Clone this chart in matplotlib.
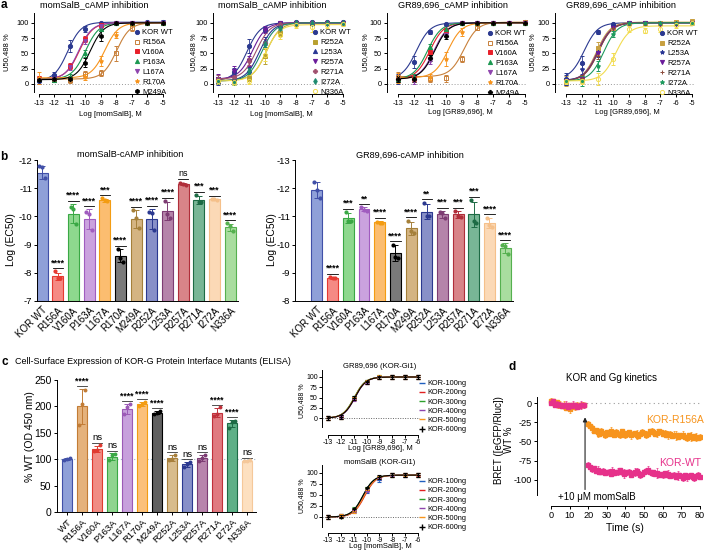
import matplotlib.pyplot as plt
import numpy as np
from matplotlib.lines import Line2D

plt.rcParams['font.family'] = ['Liberation Sans', 'DejaVu Sans']
plt.rcParams['axes.unicode_minus'] = False
plt.rcParams['axes.linewidth'] = 0.7
plt.rcParams['xtick.major.width'] = 0.7
plt.rcParams['ytick.major.width'] = 0.7
plt.rcParams['xtick.major.size'] = 2.5
plt.rcParams['ytick.major.size'] = 2.5
plt.rcParams['xtick.major.pad'] = 1.5
plt.rcParams['ytick.major.pad'] = 1.5

W, H = 705, 550

# ---------------- panel a data (dose response, % of U50,488) ----------------
log_conc = [-13, -12, -11, -10, -9, -8, -7, -6, -5]

a1_names = ['KOR WT', 'R156A', 'V160A', 'P163A', 'L167A', 'R170A', 'M249A']
a1_colors = ['#2b3990', '#c8803a', '#e8202a', '#1a9850', '#8e44ad', '#f7941d', '#000000']
a1_markers = ['o', 's', 's', '^', 'v', '*', 'h']
a1_hollow = [False, True, False, False, False, False, False]
a1_ec50 = [-11.15, -8.0, -10.4, -10.0, -10.45, -8.75, -9.7]
a1_top = [101, 100, 100, 100, 100, 100, 100]
a1_resp = [
    [5, 15, 62, 90, 100, 100, 100, 101, 102],
    [8, 8, 7, 17, 18, 50, 92, 100, 100],
    [8, 8, 30, 73, 97, 100, 100, 100, 100],
    [8, 7, 12, 50, 90, 100, 100, 100, 100],
    [7, 8, 27, 70, 95, 100, 100, 100, 100],
    [10, 8, 8, 12, 37, 80, 98, 100, 100],
    [7, 8, 8, 35, 78, 100, 100, 100, 100],
]
a1_err = [
    [5, 5, 10, 5, 2, 2, 2, 2, 2],
    [5, 5, 5, 5, 5, 12, 5, 3, 3],
    [5, 5, 5, 5, 3, 2, 2, 2, 2],
    [4, 4, 4, 6, 4, 2, 2, 2, 2],
    [4, 4, 4, 4, 3, 2, 2, 2, 2],
    [10, 5, 5, 5, 8, 5, 3, 2, 2],
    [4, 4, 4, 8, 8, 2, 2, 2, 2],
]

a2_names = ['KOR WT', 'R252A', 'L253A', 'R257A', 'R271A', 'I272A', 'N336A']
a2_colors = ['#2b3990', '#b8a030', '#283593', '#6a1b9a', '#a0506e', '#1e8a6e', '#f2dc50']
a2_markers = ['o', 's', '^', 'v', 'P', 'd', 'o']
a2_hollow = [False, False, False, False, False, False, True]
a2_ec50 = [-11.15, -9.9, -10.35, -10.8, -10.55, -10.2, -9.95]
a2_top = [100, 100, 100, 100, 100, 100, 97]
a2_resp = [
    [5, 20, 62, 89, 100, 101, 101, 101, 101],
    [6, 5, 10, 45, 84, 98, 100, 100, 100],
    [5, 10, 23, 70, 97, 100, 100, 100, 100],
    [8, 21, 37, 89, 100, 100, 100, 100, 100],
    [8, 12, 37, 67, 98, 100, 100, 100, 100],
    [5, 3, 21, 65, 92, 100, 100, 100, 100],
    [5, 3, 5, 48, 80, 96, 93, 96, 98],
]
a2_err = [
    [6, 6, 12, 4, 2, 2, 2, 2, 2],
    [5, 5, 5, 12, 6, 3, 3, 3, 3],
    [5, 5, 5, 6, 3, 2, 2, 2, 2],
    [8, 8, 8, 5, 2, 2, 2, 2, 2],
    [6, 6, 6, 6, 3, 2, 2, 2, 2],
    [5, 5, 5, 5, 4, 2, 2, 2, 2],
    [5, 5, 5, 10, 6, 4, 8, 4, 4],
]

a3_names = a1_names
a3_colors = a1_colors
a3_markers = ['o', 's', 's', '^', 'v', '*', 'P']
a3_hollow = a1_hollow
a3_ec50 = [-11.85, -8.85, -11.0, -11.15, -10.75, -9.85, -10.7]
a3_top = [100, 101, 100, 100, 100, 100, 100]
a3_resp = [
    [8, 36, 85, 98, 100, 100, 100, 100, 101],
    [12, 10, 8, 9, 41, 92, 100, 100, 102],
    [8, 10, 52, 87, 100, 100, 100, 100, 100],
    [8, 12, 60, 90, 100, 100, 100, 100, 100],
    [8, 5, 38, 80, 100, 100, 100, 100, 100],
    [10, 8, 12, 41, 85, 98, 100, 100, 100],
    [8, 8, 42, 79, 100, 100, 100, 100, 100],
]
a3_err = [
    [8, 10, 4, 2, 3, 2, 2, 2, 2],
    [8, 5, 4, 5, 5, 4, 2, 2, 2],
    [5, 5, 5, 4, 2, 2, 2, 2, 2],
    [5, 5, 6, 4, 2, 2, 2, 2, 2],
    [5, 5, 6, 4, 2, 2, 2, 2, 2],
    [8, 5, 5, 12, 6, 2, 2, 2, 2],
    [5, 5, 5, 5, 2, 2, 2, 2, 2],
]

a4_names = a2_names
a4_colors = ['#2b3990', '#c8a040', '#283593', '#6a1b9a', '#8b4a3a', '#1e9a5e', '#f2dc50']
a4_markers = ['o', 's', '*', 'v', '+', '*', 'o']
a4_hollow = a2_hollow
a4_ec50 = [-11.85, -11.05, -10.95, -11.0, -10.95, -10.6, -9.85]
a4_top = [100, 101, 100, 100, 100, 100, 95]
a4_resp = [
    [8, 35, 85, 98, 100, 100, 100, 100, 100],
    [5, 8, 58, 92, 100, 100, 100, 102, 103],
    [6, 25, 52, 95, 100, 100, 100, 100, 100],
    [5, 8, 51, 92, 100, 100, 98, 98, 100],
    [5, 10, 46, 92, 100, 100, 100, 100, 100],
    [5, 5, 30, 82, 100, 100, 100, 100, 100],
    [5, 5, 8, 41, 90, 87, 90, 96, 100],
]
a4_err = [
    [10, 10, 4, 2, 2, 2, 2, 2, 2],
    [8, 6, 10, 4, 2, 2, 2, 2, 2],
    [8, 8, 8, 4, 2, 2, 2, 2, 2],
    [5, 5, 6, 4, 2, 2, 2, 2, 2],
    [5, 5, 6, 4, 2, 2, 2, 2, 2],
    [5, 8, 8, 5, 2, 2, 2, 2, 2],
    [5, 5, 10, 10, 5, 4, 5, 4, 4],
]

# ---------------- panel b data (log EC50) ----------------
mut_labels = ['KOR WT', 'R156A', 'V160A', 'P163A', 'L167A', 'R170A', 'M249A',
              'R252A', 'L253A', 'R257A', 'R271A', 'I272A', 'N336A']
b_fill = ['#8fa0d8', '#f58a84', '#8ed88e', '#caa2de', '#fbbd70', '#7a7a7a', '#d4b482',
          '#8890c8', '#b584aa', '#d88488', '#78b696', '#fbd9b6', '#a9dd9f']
b_edge = ['#4150a8', '#e63a32', '#3aa845', '#a05cbf', '#f39c12', '#000000', '#a5803a',
          '#2b3990', '#7d3c73', '#b02e3a', '#1d6b45', '#f5c08a', '#55b04f']

b1_vals = [-11.55, -7.87, -10.1, -9.9, -10.57, -8.6, -9.9, -9.9, -10.2, -11.15, -10.58, -10.6, -9.62]
b1_dots = [
    [-11.78, -11.75, -11.35], [-8.05, -7.8, -7.82], [-10.35, -10.25, -9.72],
    [-10.15, -10.1, -9.52], [-10.64, -10.58, -10.56], [-8.84, -8.51, -8.39],
    [-10.23, -9.93, -9.58], [-10.17, -10.11, -9.52], [-10.55, -10.1, -9.95],
    [-11.2, -11.15, -11.1], [-10.75, -10.52, -10.5], [-10.62, -10.6, -10.58],
    [-9.75, -9.65, -9.5],
]
b1_sig = ['', '****', '****', '****', '***', '****', '****', '****', '****', 'ns', '***', '***', '****']

b2_vals = [-11.95, -8.82, -10.95, -11.25, -10.8, -9.7, -10.58, -11.17, -11.07, -11.07, -11.07, -10.75, -9.87]
b2_dots = [
    [-12.23, -11.94, -11.66], [-8.85, -8.8, -8.8], [-11.15, -10.85, -10.85],
    [-11.32, -11.23, -11.19], [-10.81, -10.78, -10.75], [-10.0, -9.55, -9.52],
    [-10.85, -10.49, -10.42], [-11.49, -11.03, -11.01], [-11.16, -11.11, -10.93],
    [-11.19, -11.01, -10.99], [-11.58, -10.84, -10.78], [-10.95, -10.69, -10.61],
    [-9.99, -9.95, -9.67],
]
b2_sig = ['', '****', '***', '**', '****', '****', '****', '**', '***', '***', '***', '****', '****']

# ---------------- panel c data (ELISA, % WT) ----------------
c_labels = ['WT'] + mut_labels[1:]
c_fill = ['#8fa0d8', '#e5b27c', '#f08c84', '#8fd48f', '#c7a0dc', '#fbc07a', '#606060',
          '#d8bc8c', '#8890c8', '#b884ac', '#e07a80', '#5eb087', '#fde0c0']
c_edge = ['#4150a8', '#c27c35', '#e03a30', '#3aa845', '#9b59b6', '#f39c12', '#000000',
          '#a8803c', '#2b3990', '#7d3c73', '#c0303a', '#1d6b45', '#f5c89a']
c_vals = [100, 200, 120, 105, 195, 205, 188, 102, 90, 102, 188, 168, 97]
c_dots = [
    [98, 100, 102], [165, 205, 232], [115, 118, 126], [98, 108, 110],
    [185, 198, 205], [200, 205, 208], [186, 188, 192], [98, 100, 108],
    [85, 90, 95], [97, 102, 108], [182, 185, 198], [160, 170, 173], [96, 97, 98],
]
c_sig = ['', '****', 'ns', 'ns', '****', '****', '****', 'ns', 'ns', 'ns', '****', '****', 'ns']

# small expression-level curves
amt_names = ['KOR-100ng', 'KOR-200ng', 'KOR-300ng', 'KOR-400ng', 'KOR-500ng', 'KOR-600ng']
amt_colors = ['#1f5fbf', '#e02020', '#2ca02c', '#8e44ad', '#f7941d', '#000000']
amt_conc = [-13, -12, -11, -10, -9, -8, -7, -6]
gr_ec50 = [-10.95, -10.93, -10.97, -10.9, -10.95, -10.92]
gr_resp = [
    [0, 3, 48, 88, 99, 100, 100, 100],
    [0, 2, 47, 87, 99, 100, 100, 100],
    [0, 3, 50, 89, 100, 100, 100, 100],
    [0, 4, 46, 86, 99, 100, 100, 100],
    [0, 2, 48, 88, 100, 100, 100, 100],
    [0, 3, 49, 87, 99, 100, 100, 100],
]
ms_ec50 = [-10.2, -10.15, -10.3, -10.25, -10.2, -10.3]
ms_resp = [
    [0, 2, 14, 58, 84, 95, 95, 95],
    [0, 3, 15, 62, 88, 95, 95, 96],
    [0, 2, 18, 65, 90, 95, 95, 95],
    [0, 3, 16, 60, 89, 96, 95, 95],
    [0, 2, 14, 62, 90, 95, 96, 95],
    [0, 1, 17, 65, 91, 95, 95, 95],
]

# ---------------- panel d data (BRET kinetics, WT %) ----------------
t_pre = list(range(0, 19))
t_post = list(range(20, 81))
r156a_pre = [3, 2, -1, 1, -3, -2, -4, -3, -6, -2, -8, -4, -3, -5, -2, -4, -3, -2, -3]
r156a_post = [-27, -30, -33, -36, -35, -38, -40, -37, -39, -41,
              -38, -40, -37, -39, -42, -38, -40, -41, -37, -39,
              -41, -40, -38, -42, -40, -39, -41, -43, -40, -38,
              -39, -41, -40, -37, -36, -38, -40, -39, -37, -38,
              -40, -39, -41, -42, -40, -43, -41, -42, -44, -42,
              -43, -41, -44, -45, -42, -44, -46, -43, -44, -45, -44]
r156a_err_pre = [3, 2, 4, 2, 3, 4, 2, 5, 3, 2, 5, 3, 2, 4, 3, 2, 4, 3, 2]
r156a_err_post = [4, 3, 5, 2, 3, 6, 2, 4, 3, 5,
                  3, 2, 6, 3, 2, 4, 3, 5, 2, 3,
                  4, 2, 3, 5, 2, 3, 6, 2, 3, 4,
                  2, 5, 3, 2, 4, 3, 2, 5, 3, 2,
                  3, 4, 2, 5, 3, 2, 4, 6, 3, 2,
                  3, 5, 2, 4, 3, 6, 2, 3, 5, 2, 4]
wt_pre = [0, 2, -2, -1, -3, -2, -4, -3, -2, -5, -3, -4, -2, -3, -5, -4, -3, -2, -3]
wt_post = [-80, -83, -86, -85, -88, -87, -89, -90, -88, -91,
           -89, -90, -92, -88, -91, -90, -89, -87, -90, -92,
           -91, -89, -90, -93, -91, -90, -88, -91, -93, -92,
           -90, -88, -87, -89, -91, -90, -92, -91, -93, -92,
           -94, -91, -93, -92, -95, -93, -94, -96, -94, -93,
           -95, -97, -94, -96, -95, -93, -96, -98, -95, -94, -96]
wt_err_pre = [2, 3, 2, 4, 2, 3, 2, 3, 4, 2, 3, 2, 4, 3, 2, 3, 5, 2, 3]
wt_err_post = [3, 2, 4, 3, 2, 5, 3, 2, 4, 3,
               2, 4, 3, 5, 2, 3, 4, 2, 3, 6,
               3, 2, 4, 3, 2, 5, 3, 2, 4, 3,
               2, 3, 5, 2, 4, 3, 2, 6, 3, 2,
               4, 3, 2, 5, 3, 2, 4, 3, 6, 2,
               3, 4, 2, 5, 3, 2, 4, 3, 2, 5, 3]


fig = plt.figure(figsize=(W / 100, H / 100), dpi=100)


def add_ax(left, top, right, bottom):
    ax = fig.add_axes([left / W, 1 - bottom / H, (right - left) / W, (bottom - top) / H])
    ax.spines['top'].set_visible(False)
    ax.spines['right'].set_visible(False)
    ax.patch.set_alpha(0)
    return ax


def ftext(x, y, s, **kw):
    kw.setdefault('ha', 'center')
    kw.setdefault('va', 'center')
    fig.text(x / W, 1 - y / H, s, **kw)


def hill(x, lo, hi, ec50):
    return lo + (hi - lo) / (1 + 10 ** (ec50 - x))


def dose_panel(box, xlim, names, colors, markers, hollow, ec50, top, resp, err, leg_xy):
    ax = add_ax(*box)
    ax.set_xlim(*xlim)
    ax.set_ylim(-16.4, 116)
    ax.set_xticks(log_conc)
    ax.set_yticks([0, 25, 50, 75, 100])
    ax.spines['bottom'].set_bounds(-13, -5)
    ax.spines['left'].set_bounds(-13, 116)
    ax.tick_params(labelsize=5.3)
    ax.axhline(0, color='#999999', ls=(0, (1, 2)), lw=0.7, zorder=0)
    xs = np.linspace(-13, -5, 300)
    handles = []
    for i in range(len(names)):
        c = colors[i]
        fc = 'none' if hollow[i] else c
        ax.plot(xs, hill(xs, resp[i][0], top[i], ec50[i]), color=c, lw=0.8)
        ax.errorbar(log_conc, resp[i], yerr=err[i], fmt=markers[i], color=c, mfc=fc,
                    ms=3, mew=0.7, elinewidth=0.6, capsize=1.5, capthick=0.6)
        handles.append(Line2D([], [], ls='none', marker=markers[i], color=c, mfc=fc, ms=3, mew=0.7))
    fig.legend(handles, names, loc='upper left', bbox_to_anchor=(leg_xy[0] / W, 1 - leg_xy[1] / H),
               frameon=False, fontsize=5.5, handlelength=0.7, handletextpad=0.4,
               labelspacing=0.33, borderpad=0, borderaxespad=0)
    return ax


dose_panel((34, 13, 165, 94), (-13.32, -4.87), a1_names, a1_colors, a1_markers, a1_hollow,
           a1_ec50, a1_top, a1_resp, a1_err, (134, 29))
dose_panel((213, 13, 345, 94), (-13.32, -4.87), a2_names, a2_colors, a2_markers, a2_hollow,
           a2_ec50, a2_top, a2_resp, a2_err, (312, 29))
dose_panel((387, 13, 527, 94), (-13.7, -4.87), a3_names, a3_colors, a3_markers, a3_hollow,
           a3_ec50, a3_top, a3_resp, a3_err, (487, 30))
dose_panel((555, 13, 694, 94), (-13.7, -4.87), a4_names, a4_colors, a4_markers, a4_hollow,
           a4_ec50, a4_top, a4_resp, a4_err, (659, 30))

ftext(94, 5, 'momSalB_cAMP inhibition', fontsize=6.6)
ftext(272, 5, 'momSalB_cAMP inhibition', fontsize=6.6)
ftext(453, 5, 'GR89,696_cAMP inhibition', fontsize=6.6)
ftext(621, 5, 'GR89,696_cAMP inhibition', fontsize=6.6)
ftext(110, 114, 'Log [momSalB], M', fontsize=5.5)
ftext(281, 114, 'Log [momSalB], M', fontsize=5.5)
ftext(460, 113, 'Log [GR89,696], M', fontsize=5.5)
ftext(627, 113, 'Log [GR89,696], M', fontsize=5.5)
for yx in (7, 194, 366, 533):
    ftext(yx, 52, 'U50,488 %', fontsize=5.5, rotation=90)


# ---------------- panel b ----------------
def ec50_bars(box, xlim, ylim, vals, dots, sig, title_xy, title):
    ax = add_ax(*box)
    x = np.arange(len(vals))
    base = ylim[0]
    ax.bar(x, np.array(vals) - base, bottom=base, width=0.7, color=b_fill,
           edgecolor=b_edge, linewidth=0.8, zorder=1)
    for i in range(len(vals)):
        d = np.array(dots[i])
        sd = d.std(ddof=1)
        ax.errorbar(x[i], vals[i], yerr=sd, color=b_edge[i], capsize=2, elinewidth=0.7,
                    capthick=0.7, zorder=2)
        ax.scatter([x[i] - 0.17, x[i], x[i] + 0.17], d, s=9, color=b_edge[i], zorder=3, lw=0)
        if sig[i]:
            ytop = min(d.min(), vals[i] - sd) - 0.12
            ax.plot([x[i] - 0.33, x[i] + 0.33], [ytop, ytop], color='k', lw=0.6)
            ax.text(x[i], ytop - 0.03, sig[i], ha='center', va='bottom', fontsize=6.5,
                    fontweight='bold' if sig[i] != 'ns' else 'normal')
    ax.set_xlim(*xlim)
    ax.set_ylim(*ylim)
    ax.set_yticks(np.arange(ylim[0], ylim[1] - 1, -1))
    ax.set_xticks(x)
    ax.set_xticklabels(mut_labels, rotation=45, ha='right', rotation_mode='anchor')
    ax.tick_params(axis='x', labelsize=7, length=0, pad=3)
    ax.tick_params(axis='y', labelsize=6.8, pad=1)
    ftext(title_xy[0], title_xy[1], title, fontsize=6.6)
    return ax


ec50_bars((37, 160, 238, 301), (-0.32, 12.5), (-7, -12), b1_vals, b1_dots, b1_sig,
          (130, 155), 'momSalB-cAMP inhibition')
ec50_bars((295, 160, 513, 301), (-1.4, 12.5), (-8, -13), b2_vals, b2_dots, b2_sig,
          (410, 155), 'GR89,696-cAMP inhibition')
ftext(11, 240, 'Log (EC50)', fontsize=7.5, rotation=90)
ftext(272, 240, 'Log (EC50)', fontsize=7.5, rotation=90)

# ---------------- panel c ----------------
axc = add_ax(57, 380, 256, 512)
xc = np.arange(len(c_vals))
axc.axhline(100, color='#9fb6c8', ls=(0, (1, 2)), lw=0.8, zorder=0)
axc.bar(xc, c_vals, width=0.68, color=c_fill, edgecolor=c_edge, linewidth=0.8, zorder=1)
for i in range(len(c_vals)):
    d = np.array(c_dots[i])
    sd = d.std(ddof=1)
    axc.errorbar(xc[i], c_vals[i], yerr=sd, color=c_edge[i], capsize=2, elinewidth=0.7,
                 capthick=0.7, zorder=2)
    axc.scatter([xc[i] - 0.17, xc[i], xc[i] + 0.17], d, s=8, color=c_edge[i], zorder=3, lw=0)
    if c_sig[i]:
        ytop = max(d.max(), c_vals[i] + sd) + 5
        axc.plot([xc[i] - 0.33, xc[i] + 0.33], [ytop, ytop], color='#333333', lw=0.6)
        axc.text(xc[i], ytop + 1, c_sig[i], ha='center', va='bottom',
                 fontsize=6.8 if c_sig[i] == 'ns' else 6.2,
                 fontweight='normal' if c_sig[i] == 'ns' else 'bold')
axc.set_xlim(-0.67, 12.6)
axc.set_ylim(0, 250)
axc.set_yticks([0, 50, 100, 150, 200, 250])
axc.set_xticks(xc)
axc.set_xticklabels(c_labels, rotation=45, ha='right', rotation_mode='anchor')
axc.tick_params(axis='x', labelsize=6.8, length=2, pad=2)
axc.tick_params(axis='y', labelsize=7.5)
ftext(15, 362, 'Cell-Surface Expression of KOR-G Protein Interface Mutants (ELISA)',
      fontsize=6.5, ha='left')
ftext(30, 437, '% WT (OD 450 nm)', fontsize=7.5, rotation=90)


def amount_panel(box, ylim, ec50, resp, top, title, title_y, xlabel, xlabel_y, leg_y, ylab_y):
    ax = add_ax(*box)
    ax.set_xlim(-13.47, -5.85)
    ax.set_ylim(*ylim)
    ax.set_xticks(amt_conc)
    ax.set_yticks([0, 25, 50, 75, 100])
    ax.spines['bottom'].set_bounds(-13, -6)
    ax.spines['left'].set_bounds(-22, ylim[1])
    ax.tick_params(labelsize=5, length=2, pad=1)
    ax.axhline(0, color='#666666', ls=(0, (1, 1.5)), lw=0.7, zorder=0)
    xs = np.linspace(-13, -6, 200)
    handles = []
    for i in range(len(ec50)):
        c = amt_colors[i]
        ax.plot(xs, hill(xs, 0, top, ec50[i]), color=c, lw=0.8)
        ax.errorbar(amt_conc, resp[i], yerr=4, fmt='_' if i < 5 else '+', color=c, ms=3,
                    mew=0.8, elinewidth=0.6, capsize=1.2, capthick=0.6)
        handles.append(Line2D([], [], ls='none', marker='_' if i < 5 else '+', color=c,
                              ms=4, mew=1.0))
    fig.legend(handles, amt_names, loc='upper left', bbox_to_anchor=(419 / W, 1 - leg_y / H),
               frameon=False, fontsize=5.3, handlelength=0.7, handletextpad=0.5,
               labelspacing=0.28, borderpad=0, borderaxespad=0)
    ftext(380, title_y, title, fontsize=5.5)
    ftext(380, xlabel_y, xlabel, fontsize=5.5)
    ftext(302, ylab_y, 'U50,488 %', fontsize=5, rotation=90)
    return ax


amount_panel((322, 370, 420, 435), (-41, 117), gr_ec50, gr_resp, 100,
             'GR89,696 (KOR-Gi1)', 367, 'Log [GR89,696], M', 449, 380, 401)
amount_panel((322, 465, 420, 533), (-36.4, 118), ms_ec50, ms_resp, 95,
             'momSalB (KOR-Gi1)', 462, 'Log [momSalB], M', 547, 478, 496)

# ---------------- panel d ----------------
axd = add_ax(537, 392, 702, 506)
axd.set_xlim(-7.5, 81.1)
axd.set_ylim(-133.8, 14.3)
axd.spines['left'].set_bounds(-120, 8)
axd.spines['bottom'].set_bounds(0, 80)
axd.set_xticks(np.arange(0, 81, 10))
axd.set_yticks([0, -25, -50, -75, -100])
axd.tick_params(labelsize=6.6, pad=1)
axd.plot([0, 80], [0, 0], color='#999999', ls=(0, (1, 3)), lw=0.8, zorder=0)
for tt, vv, ee in ((t_pre, r156a_pre, r156a_err_pre), (t_post, r156a_post, r156a_err_post)):
    axd.errorbar(tt, vv, yerr=ee, fmt='s', color='#f7941d', ms=2.2, elinewidth=0.5,
                 capsize=1, capthick=0.5, zorder=2)
for tt, vv, ee in ((t_pre, wt_pre, wt_err_pre), (t_post, wt_post, wt_err_post)):
    axd.errorbar(tt, vv, yerr=ee, fmt='s', color='#e6318a', ms=2.2, elinewidth=0.5,
                 capsize=1, capthick=0.5, zorder=3)
axd.annotate('', xy=(18.3, -15), xytext=(18.3, -116),
             arrowprops=dict(arrowstyle='-|>', color='#222222', lw=0.8, mutation_scale=6))
axd.text(24.7, -122, '+10 μM momSalB', ha='center', va='center', fontsize=7)
axd.text(66.6, -22, 'KOR-R156A', color='#f7941d', ha='center', va='center', fontsize=7.5)
axd.text(69.3, -78, 'KOR-WT', color='#e6318a', ha='center', va='center', fontsize=7.5)
ftext(612, 378, 'KOR and Gg kinetics', fontsize=7)
ftext(625, 528, 'Time (s)', fontsize=7.5)
ftext(504, 440, 'BRET ([eGFP/Rluc])\nWT %', fontsize=7.0, rotation=90, linespacing=1.0)

# panel letters
for lx, ly, s in ((4, 5, 'a'), (4, 157, 'b'), (5, 362, 'c'), (512, 367, 'd')):
    ftext(lx, ly, s, fontsize=8.5, fontweight='bold')

fig.savefig('out.png', dpi=100)
